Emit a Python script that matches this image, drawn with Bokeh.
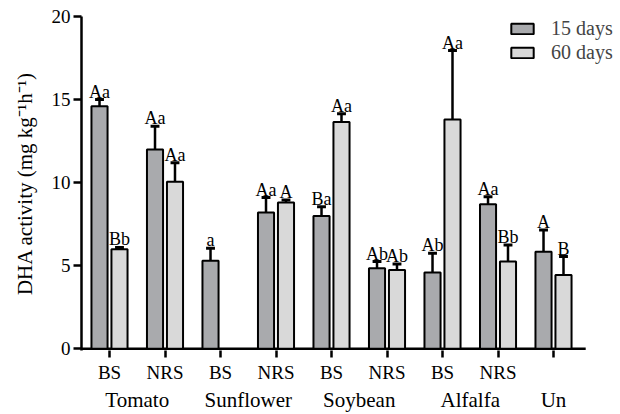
import numpy as np
from bokeh.plotting import figure
from bokeh.models import (ColumnDataSource, FixedTicker, Legend, LegendItem, Range1d, LinearAxis)
from bokeh.core.properties import value
from bokeh.embed import file_html
from bokeh.resources import INLINE

# ---- data ----
positions = [1, 2, 3, 4, 5, 6, 7, 8, 9]
sub_labels = ["BS", "NRS", "BS", "NRS", "BS", "NRS", "BS", "NRS", ""]
groups = ["Tomato", "Sunflower", "Soybean", "Alfalfa", "Un"]
group_pos = [1.5, 3.5, 5.5, 7.5, 9]
days15 = [14.6, 12.0, 5.3, 8.2, 8.0, 4.85, 4.6, 8.7, 5.85]
err15 = [0.4, 1.4, 0.75, 0.9, 0.55, 0.4, 1.15, 0.45, 1.3]
days60 = [6.0, 10.05, np.nan, 8.8, 13.65, 4.75, 13.8, 5.25, 4.45]
err60 = [0.1, 1.15, np.nan, 0.15, 0.5, 0.35, 4.15, 1.0, 1.1]
lab15 = ["Aa", "Aa", "a", "Aa", "Ba", "Ab", "Ab", "Aa", "A"]
lab60 = ["Bb", "Aa", "", "A", "Aa", "Ab", "Aa", "Bb", "B"]
yticks = [0, 5, 10, 15, 20]

FONT = "Liberation Serif"
C15 = "#a9aaad"
C60 = "#d9d9d9"
OFF = 0.18
BW = 0.29
CAP = 0.08
X0, X1 = 0.4955, 10.207   # visible range; x axis line drawn to AXIS_END
AXIS_END = 9.58

def make_src(vals, errs, labs, off):
    x = [p + off for p in positions]
    top = [v + e for v, e in zip(vals, errs)]
    return ColumnDataSource(dict(x=x, v=vals, top=top,
                                 cl=[xx - CAP for xx in x], cr=[xx + CAP for xx in x],
                                 lab=labs))

s15 = make_src(days15, err15, lab15, -OFF)
s60 = make_src(days60, err60, lab60, OFF)

p = figure(width=620, height=414, output_backend="svg", toolbar_location=None,
           x_range=Range1d(X0, X1), y_range=Range1d(-0.1, 20),
           min_border_left=81, min_border_right=0, min_border_top=16, min_border_bottom=62)
p.outline_line_color = None
p.grid.visible = False

# x axis baseline (ends before the legend area, as in the reference)
p.segment(x0=[X0], y0=[0], x1=[AXIS_END], y1=[0], line_color="black", line_width=2.5)

for s in (s15, s60):
    p.segment(x0="x", y0="v", x1="x", y1="top", source=s, line_color="black", line_width=2.5)
    p.segment(x0="cl", y0="top", x1="cr", y1="top", source=s, line_color="black", line_width=3)

r15 = p.vbar(x="x", top="v", bottom=0, width=BW, source=s15, fill_color=C15, line_color="black", line_width=2)
r60 = p.vbar(x="x", top="v", bottom=0, width=BW, source=s60, fill_color=C60, line_color="black", line_width=2)

for s in (s15, s60):
    p.text(x="x", y="top", text="lab", source=s, text_align="center", text_baseline="alphabetic",
           y_offset=-8, text_font=value(FONT), text_font_size="18px", text_color="black")

# axes
xa = p.xaxis[0]
xa.ticker = FixedTicker(ticks=positions)
xa.major_label_overrides = {p_: l for p_, l in zip(positions, sub_labels)}
xa.major_label_text_font = FONT
xa.major_label_text_font_size = "19px"
xa.major_label_text_color = "black"
xa.major_tick_out = 7
xa.major_tick_in = 0
xa.minor_tick_line_color = None
xa.axis_line_color = None
xa.major_tick_line_width = 2.5
xa.major_label_standoff = 4

ga = LinearAxis(ticker=FixedTicker(ticks=group_pos),
                major_label_overrides={gp: g for gp, g in zip(group_pos, groups)},
                major_label_text_font=FONT, major_label_text_font_size="21px",
                major_label_text_color="black", major_tick_line_color=None,
                minor_tick_line_color=None, axis_line_color=None,
                major_tick_out=0, major_tick_in=0, major_label_standoff=2)
p.add_layout(ga, "below")

ya = p.yaxis[0]
ya.ticker = FixedTicker(ticks=yticks)
ya.major_label_text_font = FONT
ya.major_label_text_font_size = "19px"
ya.major_label_text_color = "black"
ya.major_tick_out = 8
ya.major_tick_in = 0
ya.minor_tick_line_color = None
ya.axis_line_width = 2.5
ya.major_tick_line_width = 2.5
ya.major_label_standoff = 3
ya.axis_label = "DHA activity (mg kg\u207b\u00b9h\u207b\u00b9)"
ya.axis_label_text_font = FONT
ya.axis_label_text_font_size = "21px"
ya.axis_label_text_font_style = "normal"
ya.axis_label_text_color = "black"
ya.axis_label_standoff = 12

legend = Legend(items=[LegendItem(label="15 days", renderers=[r15]),
                       LegendItem(label="60 days", renderers=[r60])],
                location=(427, 286), padding=0, margin=0, spacing=1,
                glyph_width=28, glyph_height=13, label_standoff=15,
                label_text_font=FONT, label_text_font_size="20px", label_height=18,
                border_line_alpha=0, background_fill_alpha=0)
p.add_layout(legend)

open("out.html", "w").write(file_html(p, INLINE))
